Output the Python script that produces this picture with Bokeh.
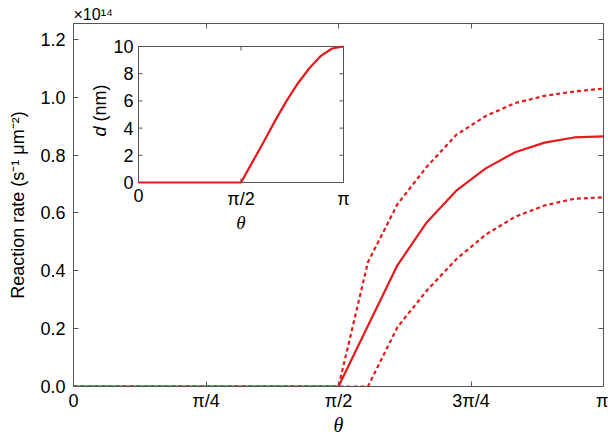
import math
from bokeh.plotting import figure
from bokeh.models import Range1d, LinearAxis, FixedTicker, NumeralTickFormatter
from bokeh.core.properties import value
from bokeh.embed import file_html
from bokeh.resources import INLINE

# ---------------- data ----------------
theta_deg = [0, 10, 20, 30, 40, 50, 60, 70, 80, 90, 100, 110, 120, 130, 140, 150, 160, 170, 180]
rate_mid = [0, 0, 0, 0, 0, 0, 0, 0, 0, 0, 0.21, 0.419, 0.568, 0.677, 0.754, 0.81, 0.843, 0.861, 0.865]
rate_upper = [0, 0, 0, 0, 0, 0, 0, 0, 0, 0, 0.43, 0.63, 0.76, 0.87, 0.935, 0.98, 1.005, 1.02, 1.03]
rate_lower = [0, 0, 0, 0, 0, 0, 0, 0, 0, 0, 0.0, 0.205, 0.332, 0.44, 0.525, 0.587, 0.626, 0.649, 0.654]
d_nm = [0, 0, 0, 0, 0, 0, 0, 0, 0, 0, 1.5, 3.0, 4.55, 6.0, 7.3, 8.4, 9.3, 9.85, 10.0]

x_ticks = [0, 45, 90, 135, 180]
x_tick_labels = ["0", "π/4", "π/2", "3π/4", "π"]
y_ticks = [0, 0.2, 0.4, 0.6, 0.8, 1.0, 1.2]
inset_x_ticks = [0, 90, 180]
inset_x_tick_labels = ["0", "π/2", "π"]
inset_y_ticks = [0, 2, 4, 6, 8, 10]
inset_y_tick_labels = ["0", "2", "4", "6", "8", "10"]

# ---------------- layout / style ----------------
W, H = 608, 438
FL, FR, FT, FB = 73, 603, 23, 386          # main frame edges (canvas px)
IL, IR, IT, IB = 138, 343, 46, 182         # inset frame edges (canvas px)
RED = "#e41a1c"
FRAME = "#555555"
SANS = "Liberation Sans"
SERIF = "Liberation Serif"
TICK_FS = "18px"

p = figure(width=W, height=H, output_backend="svg", toolbar_location=None,
           x_range=Range1d(0, 180), y_range=Range1d(0, 1.255),
           min_border_left=FL, min_border_right=W - FR,
           min_border_top=FT, min_border_bottom=H - FB)
p.background_fill_color = "white"
p.border_fill_color = "white"
p.outline_line_color = FRAME
p.grid.visible = False

# exponent as a left-aligned title
p.title.text = "×10¹⁴"
p.title.align = "left"
p.title.offset = 0
p.title.standoff = 2
p.title.text_font = SANS
p.title.text_font_style = "normal"
p.title.text_font_size = "16px"
p.title.text_color = "black"

for ax in (p.xaxis[0], p.yaxis[0]):
    ax.major_tick_in = 5
    ax.major_tick_out = 0
    ax.minor_tick_in = 0
    ax.minor_tick_out = 0
    ax.axis_line_color = FRAME
    ax.major_tick_line_color = FRAME
    ax.major_label_text_font = SANS
    ax.major_label_text_font_size = TICK_FS
    ax.major_label_text_color = "black"
    ax.axis_label_text_color = "black"

p.xaxis.ticker = FixedTicker(ticks=x_ticks)
p.xaxis.major_label_overrides = dict(zip(x_ticks, x_tick_labels))
p.xaxis.major_label_standoff = 4
p.xaxis.axis_label = "θ"
p.xaxis.axis_label_text_font = SERIF
p.xaxis.axis_label_text_font_style = "italic"
p.xaxis.axis_label_text_font_size = "20px"
p.xaxis.axis_label_standoff = 0

p.yaxis.ticker = FixedTicker(ticks=y_ticks)
p.yaxis.formatter = NumeralTickFormatter(format="0.0")
p.yaxis.major_label_standoff = 8
p.yaxis.axis_label = "Reaction rate (s⁻¹ μm⁻²)"
p.yaxis.axis_label_text_font = SANS
p.yaxis.axis_label_text_font_style = "normal"
p.yaxis.axis_label_text_font_size = "18px"
p.yaxis.axis_label_standoff = 9

# mirrored tick axes (right / top), no labels
right = LinearAxis(ticker=FixedTicker(ticks=y_ticks),
                   major_label_overrides={t: "" for t in y_ticks},
                   major_label_text_font_size="1px",
                   major_tick_in=5, major_tick_out=0, minor_tick_in=0, minor_tick_out=0,
                   major_label_standoff=0, axis_line_color=FRAME, major_tick_line_color=FRAME)
top = LinearAxis(ticker=FixedTicker(ticks=x_ticks),
                 major_label_overrides={t: "" for t in x_ticks},
                 major_label_text_font_size="1px",
                 major_tick_in=5, major_tick_out=0, minor_tick_in=0, minor_tick_out=0,
                 major_label_standoff=0, axis_line_color=FRAME, major_tick_line_color=FRAME)
p.add_layout(right, "right")
p.add_layout(top, "above")

# main curves
p.line(theta_deg, rate_upper, line_color=RED, line_width=2.2, line_dash="4 3")
p.line(theta_deg, rate_lower, line_color=RED, line_width=2.2, line_dash="4 3")
p.line(theta_deg, rate_mid, line_color=RED, line_width=2.2)

# ---------------- inset (drawn through extra ranges) ----------------
sx = 180 / (IR - IL)
sy = 10 / (IB - IT)
p.extra_x_ranges = {"ix": Range1d(0 - (IL - FL) * sx, 180 + (FR - IR) * sx)}
p.extra_y_ranges = {"iy": Range1d(0 - (FB - IB) * sy, 10 + (IT - FT) * sy)}
kw = dict(x_range_name="ix", y_range_name="iy")

p.quad(left=[0], right=[180], bottom=[0], top=[10], fill_color="white",
       line_color=FRAME, line_width=1, **kw)
# inset ticks (inside)
p.ray(x=inset_x_ticks, y=[0] * 3, length=4, length_units="screen", angle=math.pi / 2,
      line_color=FRAME, **kw)
p.ray(x=inset_x_ticks, y=[10] * 3, length=4, length_units="screen", angle=-math.pi / 2,
      line_color=FRAME, **kw)
p.ray(x=[0] * 6, y=inset_y_ticks, length=4, length_units="screen", angle=0,
      line_color=FRAME, **kw)
p.ray(x=[180] * 6, y=inset_y_ticks, length=4, length_units="screen", angle=math.pi,
      line_color=FRAME, **kw)

p.line(theta_deg, d_nm, line_color=RED, line_width=2.2, **kw)

# inset tick labels
p.text(x=[0] * 6, y=inset_y_ticks, text=inset_y_tick_labels, x_offset=-5,
       text_align="right", text_baseline="middle", text_font=value(SANS),
       text_font_size=TICK_FS, text_color="black", **kw)
p.text(x=inset_x_ticks, y=[0] * 3, text=inset_x_tick_labels, y_offset=6,
       text_align="center", text_baseline="top", text_font=value(SANS),
       text_font_size=TICK_FS, text_color="black", **kw)
# inset axis titles
p.text(x=[90], y=[0], text=["θ"], y_offset=40, text_align="center", text_baseline="middle",
       text_font=value(SERIF), text_font_style="italic", text_font_size="19px",
       text_color="black", **kw)
p.text(x=[0], y=[5], text=["d"], x_offset=-39, y_offset=22, angle=math.pi / 2,
       text_align="left", text_baseline="middle", text_font=value(SANS),
       text_font_style="italic", text_font_size="18px", text_color="black", **kw)
p.text(x=[0], y=[5], text=["(nm)"], x_offset=-39, y_offset=7, angle=math.pi / 2,
       text_align="left", text_baseline="middle", text_font=value(SANS),
       text_font_size="18px", text_color="black", **kw)

open("out.html", "w").write(file_html(p, INLINE))
